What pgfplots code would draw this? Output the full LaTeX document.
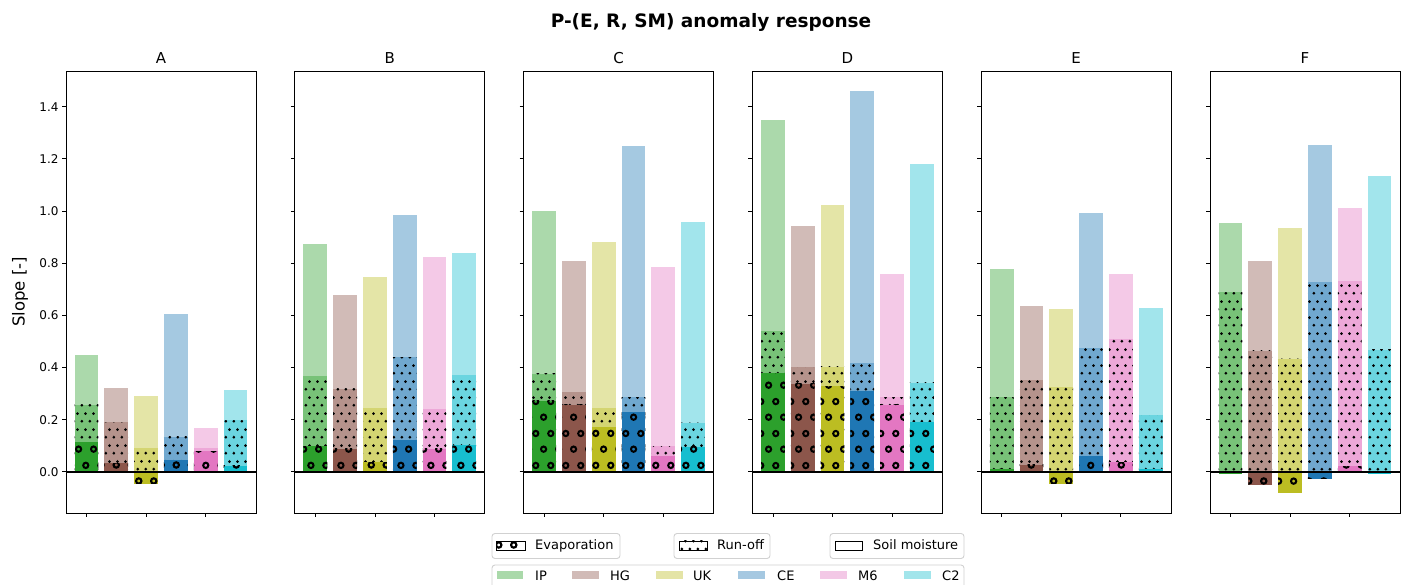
\documentclass[border=0pt]{standalone}
\usepackage{fontspec}
\setmainfont{DejaVu Sans}
\usepackage{pgfplots}
\usepackage{pgfplotstable}
\pgfplotsset{compat=1.18}
\usetikzlibrary{patterns}

% tab10 colours, one per region
\definecolor{c0}{HTML}{2CA02C}% IP
\definecolor{c1}{HTML}{8C564B}% HG
\definecolor{c2}{HTML}{BCBD22}% UK
\definecolor{c3}{HTML}{1F77B4}% CE
\definecolor{c4}{HTML}{E377C2}% M6
\definecolor{c5}{HTML}{17BECF}% C2

% hatches: rings for evaporation, small dots for run-off
\pgfdeclarepatternformonly{evap}{\pgfpointorigin}{\pgfpoint{15pt}{32pt}}{\pgfpoint{15pt}{32pt}}{%
  \pgfsetlinewidth{2.1pt}%
  \pgfpathcircle{\pgfpoint{3.75pt}{8pt}}{2.7pt}%
  \pgfpathcircle{\pgfpoint{11.25pt}{24pt}}{2.7pt}%
  \pgfusepath{stroke}}
\pgfdeclarepatternformonly{runoff}{\pgfpointorigin}{\pgfpoint{8pt}{16pt}}{\pgfpoint{8pt}{16pt}}{%
  \pgfpathcircle{\pgfpoint{2pt}{4pt}}{1.6pt}%
  \pgfpathcircle{\pgfpoint{6pt}{12pt}}{1.6pt}%
  \pgfusepath{fill}}

% E = evaporation, R = evaporation + run-off, T = total incl. soil moisture
\pgfplotstableread{
x  E       R      T
0  0.113   0.257  0.448
1  0.032   0.190  0.323
2  -0.045  0.092  0.292
3  0.047   0.135  0.605
4  0.078   0.093  0.168
5  0.024   0.198  0.315
}\dataA
\pgfplotstableread{
x  E       R      T
0  0.098   0.366  0.873
1  0.088   0.319  0.678
2  0.037   0.245  0.748
3  0.121   0.440  0.983
4  0.089   0.242  0.825
5  0.101   0.370  0.840
}\dataB
\pgfplotstableread{
x  E       R      T
0  0.272   0.376  1.001
1  0.257   0.305  0.807
2  0.170   0.245  0.883
3  0.228   0.286  1.251
4  0.060   0.098  0.785
5  0.096   0.189  0.957
}\dataC
\pgfplotstableread{
x  E       R      T
0  0.378   0.539  1.349
1  0.338   0.400  0.943
2  0.328   0.403  1.024
3  0.309   0.419  1.460
4  0.258   0.286  0.760
5  0.190   0.341  1.181
}\dataD
\pgfplotstableread{
x  E       R      T
0  0.011   0.286  0.777
1  0.027   0.352  0.634
2  -0.046  0.327  0.624
3  0.060   0.473  0.993
4  0.037   0.511  0.760
5  0.009   0.216  0.628
}\dataE
\pgfplotstableread{
x  E       R      T
0  -0.010  0.689  0.954
1  -0.051  0.465  0.807
2  -0.081  0.433  0.934
3  -0.026  0.726  1.254
4  0.021   0.730  1.013
5  -0.008  0.468  1.136
}\dataF

\newcommand\regionbars[1]{%
  \pgfplotsinvokeforeach{0,...,5}{%
    \addplot[ybar, bar width=0.8, bar shift=0pt, draw=none, fill=c##1, fill opacity=0.4,
      restrict x to domain=##1:##1]
      table[x=x, y=T] {#1};
    \addplot[ybar, bar width=0.8, bar shift=0pt, draw=none, fill=c##1, fill opacity=0.4,
      restrict x to domain=##1:##1,
      postaction={fill opacity=1, pattern=runoff}]
      table[x=x, y=R] {#1};
    \addplot[ybar, bar width=0.8, bar shift=0pt, draw=none, fill=c##1,
      restrict x to domain=##1:##1,
      postaction={pattern=evap}]
      table[x=x, y=E] {#1};
  }%
  \addplot[black, line width=1.5pt] coordinates {(-0.69,0) (5.69,0)};
}

\newcommand\legfont{\fontsize{13}{15}\selectfont}

\pgfplotsset{
  panel/.style={
    scale only axis, width=190pt, height=442pt,
    anchor=south west,
    xmin=-0.69, xmax=5.69, ymin=-0.158, ymax=1.537,
    axis line style={line width=0.8pt},
    tick align=outside, tick pos=left,
    major tick length=4pt,
    every tick/.style={black, line width=0.8pt},
    xtick={0,2,4}, xticklabels={},
    ytick={0,0.2,0.4,0.6,0.8,1.0,1.2,1.4},
    tick label style={font=\fontsize{12}{14}\selectfont},
    /pgf/number format/assume math mode=true,
    yticklabel style={/pgf/number format/.cd, fixed, fixed zerofill, precision=1},
    every axis title/.style={at={(axis description cs:0.5,1)}, anchor=base,
      yshift=7pt, font=\fontsize{15}{18}\selectfont},
    every axis y label/.style={at={(axis description cs:-0.242,0.5)}, rotate=90,
      anchor=center, font=\fontsize{16.5}{19}\selectfont},
  },
}

\begin{document}
\begin{tikzpicture}
\useasboundingbox (0pt,0pt) rectangle (1406pt,585pt);

\node[anchor=base, font=\bfseries\fontsize{18.5}{22}\selectfont] at (711pt,557pt)
  {P-(E, R, SM) anomaly response};

\begin{axis}[panel, at={(66pt,72pt)}, title={A}, ylabel={Slope [-]}]
\regionbars{\dataA}
\end{axis}
\begin{axis}[panel, at={(294.8pt,72pt)}, title={B}, yticklabels={}]
\regionbars{\dataB}
\end{axis}
\begin{axis}[panel, at={(523.6pt,72pt)}, title={C}, yticklabels={}]
\regionbars{\dataC}
\end{axis}
\begin{axis}[panel, at={(752.4pt,72pt)}, title={D}, yticklabels={}]
\regionbars{\dataD}
\end{axis}
\begin{axis}[panel, at={(981.2pt,72pt)}, title={E}, yticklabels={}]
\regionbars{\dataE}
\end{axis}
\begin{axis}[panel, at={(1210pt,72pt)}, title={F}, yticklabels={}]
\regionbars{\dataF}
\end{axis}

% legends
\tikzset{legbox/.style={draw=black!18, line width=0.9pt, rounded corners=3pt, fill=white},
         legtxt/.style={anchor=base west, inner sep=0pt, font=\legfont}}
\draw[legbox] (492pt,51.5pt) rectangle (620pt,26.5pt);
\draw[line width=0.8pt, pattern=evap] (496pt,35pt) rectangle (525pt,44pt);
\node[legtxt] at (535pt,35pt) {Evaporation};

\draw[legbox] (674pt,51.5pt) rectangle (770pt,26.5pt);
\draw[line width=0.8pt, pattern=runoff] (679pt,35pt) rectangle (707pt,44pt);
\node[legtxt] at (717pt,35pt) {Run-off};

\draw[legbox] (830pt,51.5pt) rectangle (964pt,26.5pt);
\draw[line width=0.8pt] (835pt,35pt) rectangle (862pt,44pt);
\node[legtxt] at (873pt,35pt) {Soil moisture};

\draw[legbox] (492pt,20pt) rectangle (964pt,-12pt);
\fill[c0, fill opacity=0.4] (497pt,6pt) rectangle (523pt,14pt);
\node[legtxt] at (535pt,4.5pt) {IP};
\fill[c1, fill opacity=0.4] (572pt,6pt) rectangle (599pt,14pt);
\node[legtxt] at (610pt,4.5pt) {HG};
\fill[c2, fill opacity=0.4] (656pt,6pt) rectangle (683pt,14pt);
\node[legtxt] at (693pt,4.5pt) {UK};
\fill[c3, fill opacity=0.4] (738pt,6pt) rectangle (765pt,14pt);
\node[legtxt] at (777pt,4.5pt) {CE};
\fill[c4, fill opacity=0.4] (820pt,6pt) rectangle (847pt,14pt);
\node[legtxt] at (858pt,4.5pt) {M6};
\fill[c5, fill opacity=0.4] (904pt,6pt) rectangle (931pt,14pt);
\node[legtxt] at (942pt,4.5pt) {C2};
\end{tikzpicture}
\end{document}
